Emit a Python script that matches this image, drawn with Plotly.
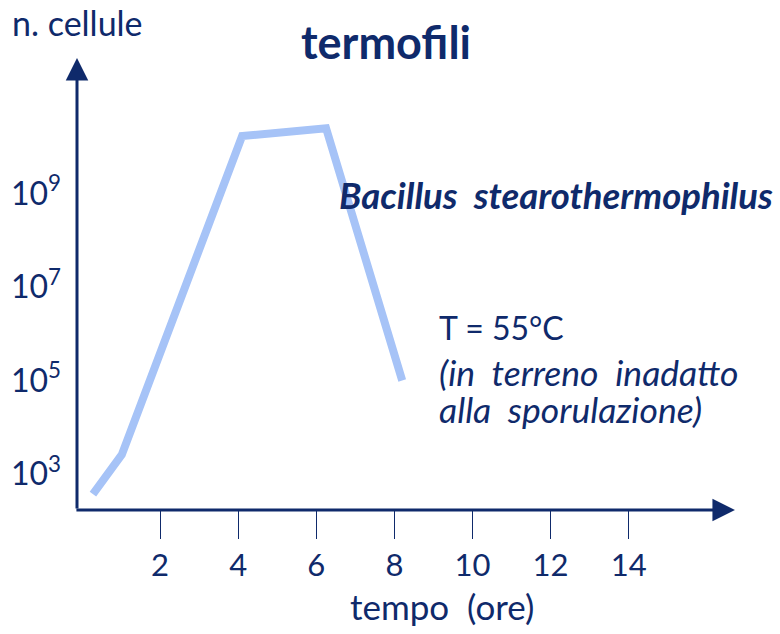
import plotly.graph_objects as go

# data (time in hours, cell counts)
tempo = [0.28, 1.02, 4.1, 6.25, 8.2]
cellule = [3.7e2, 2.6e3, 1.7e10, 2.5e10, 1.0e5]
x_ticks = [2, 4, 6, 8, 10, 12, 14]
y_ticks = [1e3, 1e5, 1e7, 1e9]
y_labels = ["10<sup>3</sup>", "10<sup>5</sup>", "10<sup>7</sup>", "10<sup>9</sup>"]

NAVY = "#0f2a6b"
LINE = "#a6c3f7"
FONT = "Lato"

fig = go.Figure()
fig.add_trace(go.Scatter(x=tempo, y=cellule, mode="lines",
                         line=dict(color=LINE, width=8), hoverinfo="skip"))

fig.update_layout(
    width=780, height=634,
    margin=dict(l=77, r=40, t=58, b=124),
    paper_bgcolor="white", plot_bgcolor="white",
    showlegend=False,
    font=dict(family=FONT, color=NAVY),
    xaxis=dict(range=[-0.128, 16.85], tickvals=x_ticks, ticks="outside",
               ticklen=28, tickwidth=1, tickcolor=NAVY, showgrid=False,
               zeroline=False, showline=False, tickfont=dict(size=31, color=NAVY),
               ticklabelstandoff=0),
    yaxis=dict(type="log", range=[2.23, 11.9], tickvals=y_ticks, ticktext=y_labels,
               ticks="", showgrid=False, zeroline=False, showline=False,
               tickfont=dict(size=32, color=NAVY), ticklabelstandoff=15),
)

# axis arrows
fig.add_annotation(x=16.72, y=0, xref="x", yref="paper", ax=-660, ay=0,
                   axref="pixel", ayref="pixel", showarrow=True, arrowhead=2,
                   arrowsize=1.5, arrowwidth=3, arrowcolor=NAVY, text="")
fig.add_annotation(x=0, y=1, xref="paper", yref="paper", ax=0, ay=452,
                   axref="pixel", ayref="pixel", showarrow=True, arrowhead=2,
                   arrowsize=1.5, arrowwidth=3, arrowcolor=NAVY, text="")

W, H = 663.0, 452.0
def px(xp):
    return (xp - 77) / W
def py(yp):
    return (510 - yp) / H

def txt(xp, yp, s, size, xanchor="left"):
    fig.add_annotation(x=px(xp), y=py(yp), xref="paper", yref="paper", text=s,
                       showarrow=False, xanchor=xanchor, yanchor="middle",
                       font=dict(size=size, color=NAVY, family=FONT))

S = "\u00a0\u00a0"
txt(10, 22, "n. cellule", 34)
txt(386, 42, "<b>termofili</b>", 45, "center")
txt(337, 195, "<b><i>Bacillus" + S + "stearothermophilus</i></b>", 36.5)
txt(437, 328, "T = 55°C", 32)
txt(437, 373, "<i>(in" + S + "terreno" + S + "inadatto</i>", 35.5)
txt(437, 409, "<i>alla" + S + "sporulazione)</i>", 35.5)
txt(442, 606, "tempo" + S + "(ore)", 35, "center")

fig.write_html("out.html", post_script="document.body.style.margin='0';",
               config={"displayModeBar": False})
